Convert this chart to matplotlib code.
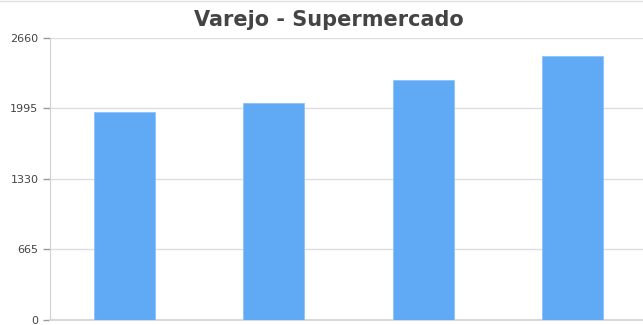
import matplotlib
matplotlib.use("Agg")
import matplotlib.pyplot as plt

# Data
categories = ["T1", "T2", "T3", "T4"]
values = [1960, 2046, 2267, 2487]
y_ticks = [0, 665, 1330, 1995, 2660]
title = "Varejo - Supermercado"

bar_color = "#60a9f5"
text_color = "#444444"
grid_color = "#dddddd"

fig = plt.figure(figsize=(6.43, 3.25), dpi=100)
ax = fig.add_axes([0.0770, 0.016, 0.930, 0.867])

x = range(len(categories))
ax.bar(x, values, width=0.41, color=bar_color, edgecolor="#8cc2f8",
       linewidth=0.6, zorder=3)

ax.set_xlim(-0.5, len(categories) - 0.5)
ax.set_ylim(0, y_ticks[-1])
ax.set_yticks(y_ticks)
ax.set_yticklabels([str(v) for v in y_ticks])
ax.set_xticks([])

ax.grid(axis="y", color=grid_color, linewidth=1, zorder=0)
for side in ["top", "right"]:
    ax.spines[side].set_visible(False)
ax.spines["left"].set_color("#d0d0d0")
ax.spines["bottom"].set_color("#d8d8d8")
ax.spines["bottom"].set_linewidth(1.5)
ax.tick_params(axis="y", colors="#999999", labelcolor=text_color,
               labelsize=8, length=5, width=1, pad=3)

fig.text(0.512, 0.94, title, ha="center", va="center",
         fontsize=15, fontweight="bold", color=text_color)

# thin frame line along the top edge
fig.add_artist(plt.Line2D([0, 1], [0.998, 0.998], color="#e0e0e0",
                          linewidth=1, transform=fig.transFigure))

fig.savefig("out.png", dpi=100)
